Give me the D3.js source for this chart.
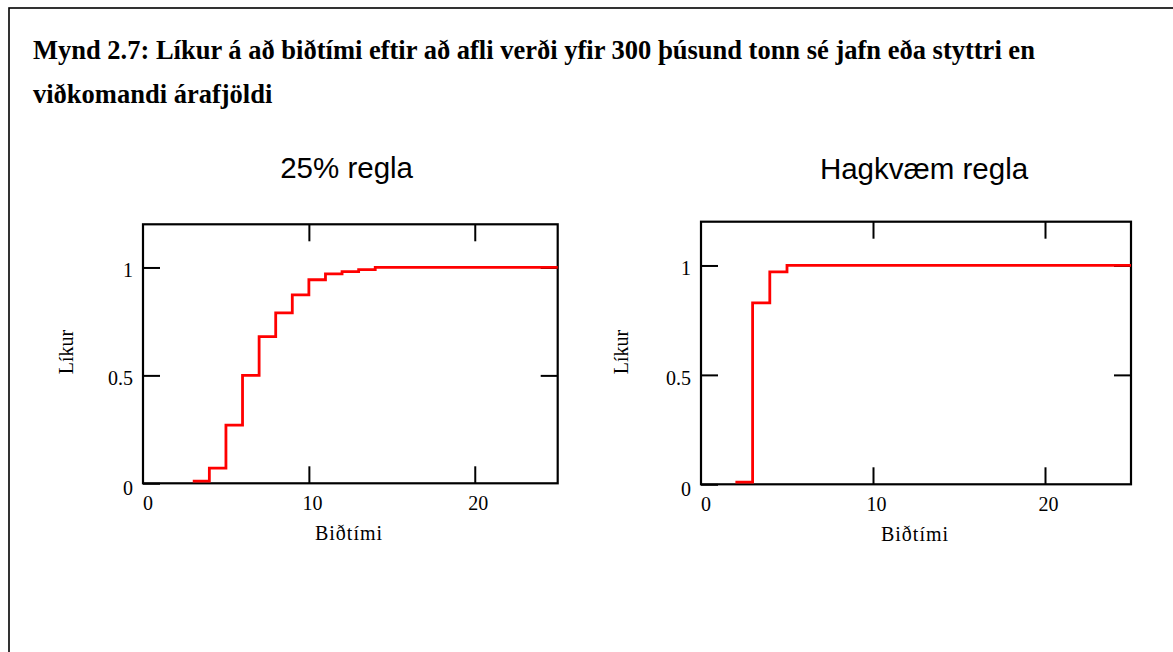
<!DOCTYPE html>
<html>
<head>
<meta charset="utf-8">
<script src="https://cdn.jsdelivr.net/npm/d3@7"></script>
<style>
  html, body { margin: 0; padding: 0; background: #fff; }
  svg { display: block; }
</style>
</head>
<body>
<svg id="chart" width="1173" height="652"></svg>
<script>
// ---- data ----
const titleLines = [
  "Mynd 2.7: Líkur á að biðtími eftir að afli verði yfir 300 þúsund tonn sé jafn eða styttri en",
  "viðkomandi árafjöldi"
];
const panelTitles = ["25% regla", "Hagkvæm regla"];
const xAxisTitle = "Biðtími";
const yAxisTitle = "Líkur";
const xTicks = [0, 10, 20];
const yTicks = [0, 0.5, 1];
const yTickLabels = ["0", "0.5", "1"];

const years25 = [3, 4, 5, 6, 7, 8, 9, 10, 11, 12, 13, 14, 25];
const prob25  = [0.01, 0.07, 0.27, 0.50, 0.68, 0.79, 0.873, 0.943, 0.97, 0.981, 0.99, 1.0, 1.0];

const yearsHag = [2, 3, 4, 5, 25];
const probHag  = [0.01, 0.829, 0.971, 1.0, 1.0];

// ---- drawing ----
const svg = d3.select("#chart");
const serif = "'Liberation Serif', 'Times New Roman', serif";
const sans = "'Liberation Sans', Arial, sans-serif";

// outer frame
svg.append("rect")
  .attr("x", 9).attr("y", 8).attr("width", 1200).attr("height", 700)
  .attr("fill", "none").attr("stroke", "#000").attr("stroke-width", 1.6);

// main title
svg.selectAll("text.maintitle").data(titleLines).join("text")
  .attr("class", "maintitle")
  .attr("x", 33)
  .attr("y", (d, i) => 59 + i * 44)
  .attr("font-family", serif)
  .attr("font-weight", "bold")
  .attr("font-size", 26.5)
  .attr("fill", "#000")
  .text(d => d);

const panels = [
  { title: panelTitles[0], years: years25, probs: prob25,
    x0: 143, x1: 557.7, yTop: 224.3, yBot: 483.3, titleX: 346.6, titleY: 178,
    ylabX: 73, xlabX: 349 },
  { title: panelTitles[1], years: yearsHag, probs: probHag,
    x0: 701, x1: 1131, yTop: 221.7, yBot: 484.3, titleX: 924, titleY: 179,
    ylabX: 628, xlabX: 915 }
];

panels.forEach(p => {
  const x = d3.scaleLinear().domain([0, 25]).range([p.x0, p.x1]);
  const y = d3.scaleLinear().domain([0, 1.2]).range([p.yBot, p.yTop]);
  const g = svg.append("g");

  // panel title
  g.append("text")
    .attr("x", p.titleX).attr("y", p.titleY)
    .attr("text-anchor", "middle")
    .attr("font-family", sans).attr("font-size", 29.5)
    .attr("fill", "#000")
    .text(p.title);

  const tickLen = 17;
  const axisStyle = sel => {
    sel.select(".domain").remove();
    sel.selectAll(".tick line").attr("stroke", "#000").attr("stroke-width", 2);
    sel.selectAll(".tick text").remove();
  };

  g.append("g").attr("transform", `translate(0,${p.yBot})`)
    .call(d3.axisBottom(x).tickValues(xTicks.filter(v => v > 0)).tickSize(-tickLen))
    .call(axisStyle);
  g.append("g").attr("transform", `translate(0,${p.yTop})`)
    .call(d3.axisTop(x).tickValues(xTicks.filter(v => v > 0)).tickSize(-tickLen))
    .call(axisStyle);
  g.append("g").attr("transform", `translate(${p.x0},0)`)
    .call(d3.axisLeft(y).tickValues(yTicks).tickSize(-tickLen))
    .call(axisStyle);
  g.append("g").attr("transform", `translate(${p.x1},0)`)
    .call(d3.axisRight(y).tickValues(yTicks.filter(v => v > 0)).tickSize(-tickLen))
    .call(axisStyle);

  // frame
  g.append("rect")
    .attr("x", p.x0).attr("y", p.yTop)
    .attr("width", p.x1 - p.x0).attr("height", p.yBot - p.yTop)
    .attr("fill", "none").attr("stroke", "#000").attr("stroke-width", 2.2);

  // step line
  const line = d3.line()
    .x((d, i) => x(p.years[i]))
    .y((d, i) => y(p.probs[i]))
    .curve(d3.curveStepAfter);
  g.append("path")
    .datum(p.probs)
    .attr("d", line)
    .attr("fill", "none")
    .attr("stroke", "#ff0000")
    .attr("stroke-width", 2.8);

  // x tick labels
  g.selectAll("text.xt").data(xTicks).join("text")
    .attr("class", "xt")
    .attr("x", d => x(d) + (d === 0 ? 5 : 3.5))
    .attr("y", p.yBot + 27)
    .attr("text-anchor", "middle")
    .attr("font-family", serif).attr("font-size", 20)
    .attr("fill", "#000")
    .text(d => d);

  // y tick labels
  g.selectAll("text.yt").data(yTicks).join("text")
    .attr("class", "yt")
    .attr("x", p.x0 - 10)
    .attr("y", (d, i) => y(d) + (d === 0 ? 12 : 10))
    .attr("text-anchor", "end")
    .attr("font-family", serif).attr("font-size", 20)
    .attr("fill", "#000")
    .text((d, i) => yTickLabels[i]);

  // axis titles
  g.append("text")
    .attr("x", p.xlabX).attr("y", p.yBot + 57)
    .attr("text-anchor", "middle")
    .attr("font-family", serif).attr("font-size", 20)
    .attr("letter-spacing", 1)
    .attr("fill", "#000")
    .text(xAxisTitle);

  g.append("text")
    .attr("transform", `translate(${p.ylabX},352) rotate(-90)`)
    .attr("text-anchor", "middle")
    .attr("font-family", serif).attr("font-size", 20)
    .attr("fill", "#000")
    .text(yAxisTitle);
});
</script>
</body>
</html>
